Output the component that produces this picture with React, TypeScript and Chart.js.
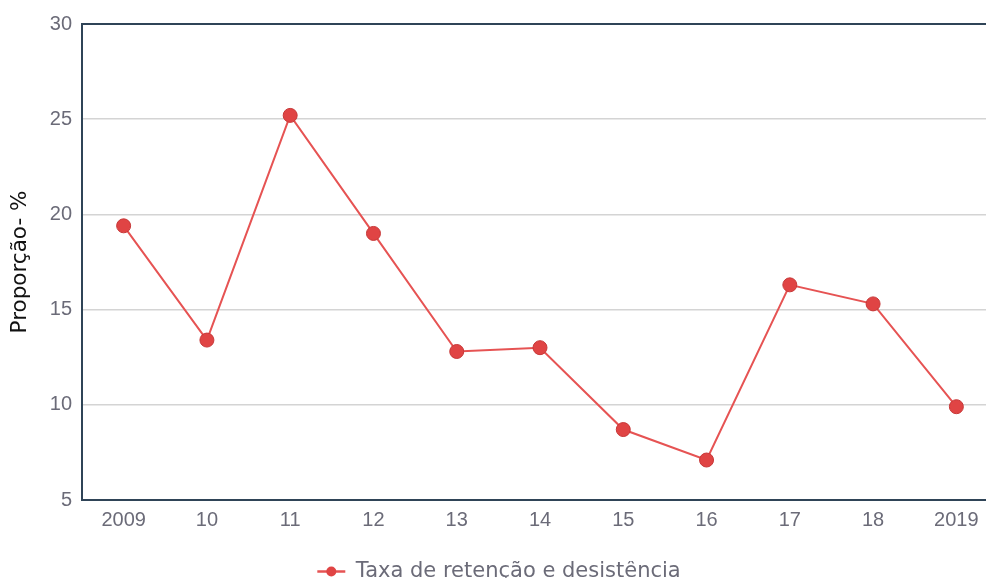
import React, { useEffect, useRef } from "react";
import { Chart, registerables } from "chart.js";

Chart.register(...registerables);

const categories = ["2009", "10", "11", "12", "13", "14", "15", "16", "17", "18", "2019"];
const seriesName = "Taxa de retenção e desistência";
const seriesValues = [19.4, 13.4, 25.2, 19.0, 12.8, 13.0, 8.7, 7.1, 16.3, 15.3, 9.9];
const yTicks = [5, 10, 15, 20, 25, 30];
const yTitle = "Proporção- %";

const LINE = "#e65353";
const POINT_FILL = "#e04444";
const POINT_BORDER = "#c73838";
const AXIS = "#2f4457";
const LABEL = "#6b6b78";

const framePlugin = {
  id: "frame",
  afterDatasetsDraw(chart: any) {
    const { ctx, chartArea } = chart;
    ctx.save();
    ctx.strokeStyle = AXIS;
    ctx.lineWidth = 2;
    ctx.beginPath();
    ctx.moveTo(chartArea.right + 20, chartArea.top);
    ctx.lineTo(chartArea.left, chartArea.top);
    ctx.lineTo(chartArea.left, chartArea.bottom);
    ctx.lineTo(chartArea.right + 20, chartArea.bottom);
    ctx.stroke();
    ctx.restore();
  },
  afterDraw(chart: any) {
    const lg = chart.legend;
    if (!lg || !lg.legendHitBoxes || !lg.legendHitBoxes.length) return;
    const hb = lg.legendHitBoxes[0];
    const { ctx } = chart;
    const cx = hb.left + 14;
    const cy = hb.top + hb.height / 2;
    ctx.save();
    ctx.strokeStyle = LINE;
    ctx.lineWidth = 2.5;
    ctx.beginPath();
    ctx.moveTo(cx - 14, cy);
    ctx.lineTo(cx + 14, cy);
    ctx.stroke();
    ctx.fillStyle = POINT_FILL;
    ctx.beginPath();
    ctx.arc(cx, cy, 5, 0, Math.PI * 2);
    ctx.fill();
    ctx.restore();
  },
};

export default function App() {
  const ref = useRef<HTMLCanvasElement>(null);
  useEffect(() => {
    const chart = new Chart(ref.current!, {
      type: "line",
      data: {
        labels: categories,
        datasets: [
          {
            label: seriesName,
            data: seriesValues,
            borderColor: LINE,
            borderWidth: 2,
            backgroundColor: POINT_FILL,
            pointBackgroundColor: POINT_FILL,
            pointBorderColor: POINT_BORDER,
            pointBorderWidth: 1,
            pointRadius: 7,
            tension: 0,
          },
        ],
      },
      options: {
        animation: false,
        responsive: false,
        maintainAspectRatio: false,
        layout: { padding: { top: 24, left: 0, right: 12, bottom: 0 } },
        scales: {
          x: {
            offset: true,
            grid: { display: false, drawTicks: false },
            border: { display: false },
            ticks: {
              color: LABEL,
              font: { family: "'Liberation Sans', Arial, sans-serif", size: 20 },
              padding: 8,
              maxRotation: 0,
              autoSkip: false,
            },
            afterFit(scale: any) {
              scale.height = 61;
            },
          },
          y: {
            min: 5,
            max: 30,
            afterBuildTicks(scale: any) {
              scale.ticks = yTicks.map((v) => ({ value: v }));
            },
            grid: { color: "#d4d4d4", lineWidth: 1.5, drawTicks: false },
            border: { display: false },
            ticks: {
              color: LABEL,
              font: { family: "'Liberation Sans', Arial, sans-serif", size: 20 },
              padding: 10,
            },
            title: {
              display: true,
              text: yTitle,
              color: "#111",
              font: { family: "'DejaVu Sans', Verdana, sans-serif", size: 21.5 },
              padding: { top: 8, bottom: 0 },
            },
            afterFit(scale: any) {
              scale.width = 82;
            },
          },
        },
        plugins: {
          legend: {
            position: "bottom",
            labels: {
              color: LABEL,
              font: { family: "'DejaVu Sans', Verdana, sans-serif", size: 21 },
              padding: 0,
              boxWidth: 28,
              boxHeight: 12,
              generateLabels: (ch: any) =>
                ch.data.datasets.map((d: any, i: number) => ({
                  text: d.label,
                  fillStyle: "rgba(0,0,0,0)",
                  strokeStyle: "rgba(0,0,0,0)",
                  fontColor: LABEL,
                  lineWidth: 0,
                  datasetIndex: i,
                  hidden: false,
                })),
            },
          },
          tooltip: { enabled: false },
        },
      },
      plugins: [framePlugin],
    });
    return () => chart.destroy();
  }, []);
  return (
    <div style={{ position: "fixed", left: 0, top: 0, width: 986, height: 578, overflow: "hidden", background: "#fff" }}>
      <canvas ref={ref} width={1010} height={592} style={{ display: "block", width: 1010, height: 592 }} />
    </div>
  );
}
